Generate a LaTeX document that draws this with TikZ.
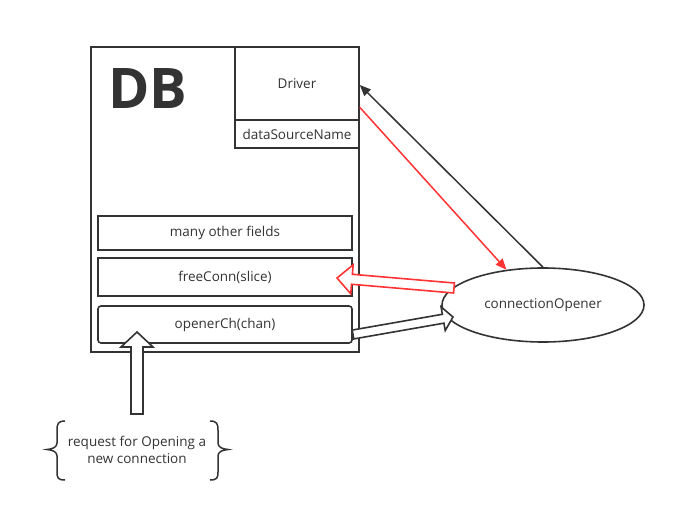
\documentclass[tikz,border=0pt]{standalone}
\usepackage{fontspec}
\setmainfont{Open Sans}
\usetikzlibrary{shapes.geometric,arrows.meta,calc}
\definecolor{ink}{HTML}{333333}
\definecolor{redline}{HTML}{FF3333}
\newcommand{\blockarrow}[6]{% style, start, end, half shaft, half head, head length
  \coordinate (hb) at ($(#3)!#6!(#2)$);
  \draw[#1] ($(#2)!#4!90:(#3)$) -- ($(hb)!#4!90:(#3)$) -- ($(hb)!#5!90:(#3)$) -- (#3)
    -- ($(hb)!#5!-90:(#3)$) -- ($(hb)!#4!-90:(#3)$) -- ($(#2)!#4!-90:(#3)$) -- cycle;}
\begin{document}
\begin{tikzpicture}[x=1bp,y=-1bp,
  box/.style={draw=ink,line width=1.6bp,inner sep=0pt,font=\fontsize{13.5bp}{15bp}\selectfont,text=ink},
  thin/.style={line width=1.5bp},
  blk/.style={draw=ink,line width=1.6bp,fill=white,line join=miter},
  redblk/.style={draw=redline,line width=1.6bp,fill=white,line join=miter},
  lbl/.style={font=\fontsize{13.5bp}{17bp}\selectfont,text=ink,align=center,inner sep=0pt}]
\useasboundingbox (0,0) rectangle (676,512);
% DB outer
\node[box,minimum width=268bp,minimum height=305bp] (db) at (225,199.5) {};
\node[text=ink,font=\fontsize{56bp}{60bp}\selectfont\bfseries,inner sep=0pt] (dbt) at (148,89) {DB};
\node[box,minimum width=124bp,minimum height=73bp] (driver) at (297,83.5) {Driver};
\node[box,minimum width=124bp,minimum height=28bp] (dsn) at (297,134) {dataSourceName};
\node[box,minimum width=254bp,minimum height=34bp] (fields) at (225,233) {many other fields};
\node[box,minimum width=254bp,minimum height=38bp] (freeconn) at (225,277) {freeConn(slice)};
\node[box,rounded corners=3bp,minimum width=254bp,minimum height=37bp] (openerch) at (225,324.5) {openerCh(chan)};
% connectionOpener
\node[box,ellipse,minimum width=202bp,minimum height=74bp] (copener) at (543,305) {connectionOpener};
% thin arrows
\coordinate (drvin) at ($(driver.north east)!0.52!(driver.south east)$);
\coordinate (drvout) at ($(driver.north east)!0.82!(driver.south east)$);
\draw[ink,thin,-{Triangle[length=11bp,width=9bp]}] (copener.north) -- (drvin);
\draw[redline,thin,-{Triangle[length=11bp,width=9bp]}] (drvout) -- (copener.136);
% block arrows
\coordinate (rs) at (454,288);
\coordinate (re) at (337,278);
\blockarrow{redblk}{rs}{re}{5bp}{14.5bp}{15bp}
\coordinate (bs) at (353,334.5);
\coordinate (be) at (453,317);
\blockarrow{blk}{bs}{be}{4.5bp}{12bp}{10bp}
% request
\node[lbl] (req) at (137,450) {request for Opening a\\new connection};
\coordinate (us) at (137,414);
\coordinate (ue) at (137,332);
\blockarrow{blk}{us}{ue}{6bp}{16bp}{15bp}
% braces
\draw[ink,thin] (65,421) .. controls (58,421) and (57,424) .. (57,430) -- (57,443) .. controls (57,447) and (53,449) .. (47,449.5)
  .. controls (53,450) and (57,452) .. (57,456) -- (57,472) .. controls (57,478) and (58,480) .. (65,480);
\draw[ink,thin] (210,421) .. controls (217,421) and (218,424) .. (218,430) -- (218,443) .. controls (218,447) and (222,449) .. (228,449.5)
  .. controls (222,450) and (218,452) .. (218,456) -- (218,472) .. controls (218,478) and (217,480) .. (210,480);
\end{tikzpicture}
\end{document}
